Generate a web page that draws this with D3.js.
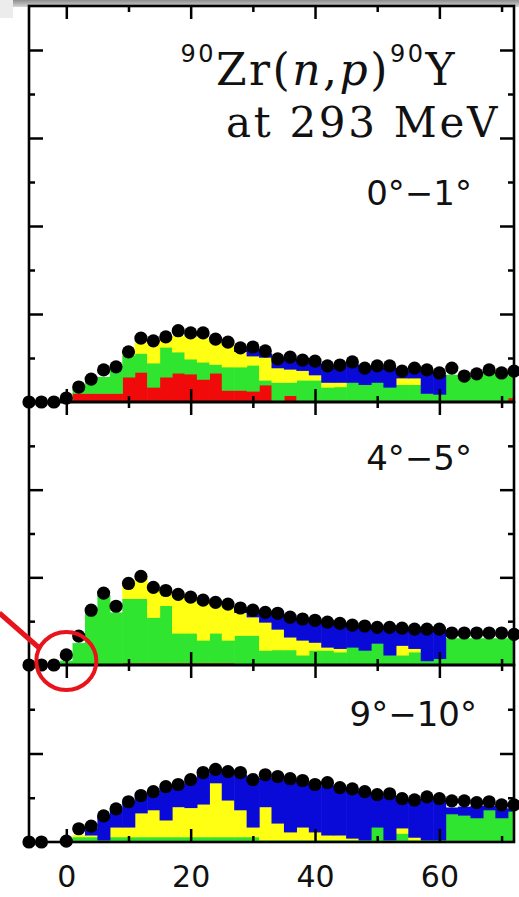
<!DOCTYPE html>
<html>
<head>
<meta charset="utf-8">
<script src="https://cdn.jsdelivr.net/npm/d3@7"></script>
<style>
body { margin: 0; background: #fff; }
svg { display: block; }
</style>
</head>
<body>
<script>
// bin centres (MeV), 2 MeV wide
var energy = [-6,-4,-2,0,2,4,6,8,10,12,14,16,18,20,22,24,26,28,30,32,34,36,38,40,42,44,46,48,50,52,54,56,58,60,62,64,66,68,70,72];

var xMajorTicks = [0, 20, 40, 60],
    xMinorTicks = [10, 30, 50, 70],
    xTickLabels = ["0", "20", "40", "60"],
    yMajorTicks = [2, 4, 6, 8],
    yMinorTicks = [1, 3, 5, 7];

var angleLabels = ["0°−1°", "4°−5°", "9°−10°"];

// 0-1 deg
var dots01 = [0,0,0,0.09,0.34,0.52,0.73,0.80,1.14,1.45,1.39,1.48,1.62,1.57,1.57,1.43,1.36,1.23,1.25,1.16,0.98,1.02,0.95,0.93,0.82,0.84,0.91,0.77,0.82,0.82,0.70,0.77,0.73,0.66,0.77,0.59,0.64,0.73,0.66,0.70];
var red01 = [0,0,0,0.05,0.2,0.2,0.2,0.2,0.57,0.68,0.34,0.57,0.66,0.64,0.52,0.66,0.27,0.27,0.25,0.39,0.02,0.15,0,0,0,0,0,0,0,0,0,0,0,0,0,0,0,0,0,0.1];
var green01 = [0,0,0,0.05,0.1,0.25,0.37,0.55,0.5,0.43,0.55,0.68,0.48,0.34,0.39,0.2,0.53,0.53,0.59,0.11,0.43,0.3,0.5,0.5,0.34,0.35,0.45,0.4,0.45,0.34,0.4,0.4,0.2,0.18,0.62,0.6,0.6,0.65,0.62,0.55];
var yellow01 = [0,0,0,0,0,0,0,0,0.03,0.24,0.46,0.15,0.36,0.52,0.54,0.52,0.5,0.35,0.21,0.52,0.33,0.3,0.22,0.12,0.11,0.1,0,0,0,0,0.15,0.15,0,0,0,0,0,0,0,0];
var blue01 = [0,0,0,0,0,0,0,0,0,0,0,0,0,0,0,0,0,0.05,0.15,0.08,0.17,0.23,0.18,0.25,0.33,0.35,0.4,0.32,0.33,0.44,0.13,0.17,0.48,0.44,0,0,0,0,0,0];

// 4-5 deg
var dots45 = [0,0,0,0.23,0.66,1.25,1.64,1.34,1.86,2.02,1.77,1.7,1.61,1.55,1.48,1.43,1.39,1.3,1.25,1.2,1.18,1.09,1.05,1.02,0.98,0.95,0.91,0.89,0.86,0.86,0.84,0.82,0.82,0.82,0.73,0.73,0.73,0.73,0.73,0.7];
var red45 = [0,0,0,0,0,0,0,0,0.05,0.05,0.05,0.05,0.05,0.05,0.05,0.05,0.05,0,0,0,0,0,0,0,0,0,0,0,0,0,0,0,0,0,0,0,0,0,0,0];
var green45 = [0,0,0,0.1,0.5,1.18,1.59,1.2,1.47,1.47,1.04,1.31,0.68,0.68,0.52,0.68,0.52,0.68,0.68,0.34,0.35,0.35,0.23,0.34,0.34,0.3,0.41,0.34,0.5,0.23,0.23,0.3,0.1,0.15,0.61,0.61,0.61,0.61,0.61,0.66];
var yellow45 = [0,0,0,0,0,0,0,0,0.34,0.46,0.63,0.32,0.85,0.79,0.88,0.67,0.79,0.52,0.42,0.64,0.47,0.29,0.34,0.18,0.07,0.08,0,0,0,0,0.22,0.08,0,0,0,0,0,0,0,0];
var blue45 = [0,0,0,0,0,0,0,0,0,0,0,0,0,0,0,0,0,0.08,0.12,0.2,0.33,0.43,0.46,0.48,0.55,0.55,0.48,0.53,0.35,0.61,0.37,0.42,0.7,0.65,0,0,0,0,0,0];

// 9-10 deg
var dots910 = [0,0,null,0.02,0.3,0.36,0.59,0.75,0.91,1.05,1.14,1.25,1.3,1.41,1.57,1.64,1.59,1.57,1.41,1.52,1.48,1.43,1.39,1.3,1.34,1.23,1.2,1.14,1.07,1.09,0.98,0.95,1.02,0.98,0.93,0.93,0.89,0.91,0.84,0.84];
var red910 = [0,0,0,0,0,0,0,0,0,0,0,0,0,0,0,0,0,0,0,0,0,0,0,0,0,0,0,0,0,0,0,0,0,0,0,0,0,0,0,0];
var green910 = [0,0,0,0.02,0.12,0.12,0.05,0.12,0.12,0.12,0.12,0.12,0.12,0.12,0.12,0.12,0.12,0.12,0.12,0.05,0.05,0.05,0.05,0.05,0.05,0.05,0.05,0.05,0.34,0.05,0.2,0.05,0.05,0.05,0.64,0.61,0.55,0.73,0.55,0.7];
var yellow910 = [0,0,0,0,0.04,0.04,0,0.22,0.22,0.54,0.61,0.38,0.68,0.66,0.74,1.22,0.83,0.61,0.22,0.75,0.38,0.18,0.29,0.18,0.11,0.11,0.04,0,0,0,0.12,0.06,0,0,0,0,0,0,0,0];
var blue910 = [0,0,0,0,0,0.14,0.52,0.38,0.54,0.36,0.37,0.72,0.48,0.6,0.66,0.26,0.6,0.79,1.04,0.65,0.99,1.15,1.0,1.02,1.12,1.02,1.06,1.05,0.69,1.0,0.63,0.81,0.92,0.9,0.14,0.19,0.27,0.09,0.21,0.06];

var keys = ["red", "green", "yellow", "blue"];
var colors = {red: "#f00a0a", green: "#2fe52f", yellow: "#ffff14", blue: "#0a0ad8"};

var width = 519, height = 897,
    left = 29, right = 514;

var panels = [
  {label: angleLabels[0], top: 6,   bottom: 402, ymax: 9, lx: 472, ly: 205,
   dots: dots01, red: red01, green: green01, yellow: yellow01, blue: blue01},
  {label: angleLabels[1], top: 402, bottom: 665, ymax: 6, lx: 472, ly: 470,
   dots: dots45, red: red45, green: green45, yellow: yellow45, blue: blue45},
  {label: angleLabels[2], top: 665, bottom: 842, ymax: 4, lx: 477, ly: 726,
   dots: dots910, red: red910, green: green910, yellow: yellow910, blue: blue910}
];

var svg = d3.select("body").append("svg")
    .attr("width", width)
    .attr("height", height);

// grey strip of the screenshot at the top
var defs = svg.append("defs");
var grad = defs.append("linearGradient").attr("id", "topfade")
    .attr("x1", 0).attr("y1", 0).attr("x2", 0).attr("y2", 1);
grad.append("stop").attr("offset", 0).attr("stop-color", "#8e8e8e");
grad.append("stop").attr("offset", 1).attr("stop-color", "#d4d4d4");
svg.append("rect").attr("x", 0).attr("y", 0).attr("width", width).attr("height", 7)
    .attr("fill", "url(#topfade)");
svg.append("rect").attr("x", 0).attr("y", 0).attr("width", 13).attr("height", 18)
    .attr("fill", "#ececec");

var x = d3.scaleLinear()
    .domain([-6, 72])
    .range([left, right]);

function tickAxis(g, axis, values, size) {
  g.call(axis.tickValues(values).tickSize(size).tickFormat(""))
   .call(function(s) { s.select(".domain").remove(); })
   .selectAll(".tick line")
   .attr("stroke", "#000")
   .attr("stroke-width", 2.5);
}

panels.forEach(function(p, i) {
  var y = d3.scaleLinear()
      .domain([0, p.ymax])
      .range([p.bottom, p.top]);
  p.y = y;

  var g = svg.append("g");

  defs.append("clipPath").attr("id", "clip" + i)
    .append("rect")
    .attr("x", left).attr("y", p.top)
    .attr("width", right - left).attr("height", p.bottom - p.top);

  var rows = energy.map(function(e, j) {
    return {e: e, red: p.red[j], green: p.green[j], yellow: p.yellow[j], blue: p.blue[j]};
  });
  var series = d3.stack().keys(keys)(rows);

  g.append("g")
      .attr("clip-path", "url(#clip" + i + ")")
    .selectAll("g")
    .data(series)
    .join("g")
      .attr("fill", function(d) { return colors[d.key]; })
    .selectAll("rect")
    .data(function(d) { return d.filter(function(v) { return v[1] - v[0] > 0; }); })
    .join("rect")
      .attr("x", function(d) { return x(d.data.e - 1); })
      .attr("width", x(2) - x(0) + 0.6)
      .attr("y", function(d) { return y(d[1]); })
      .attr("height", function(d) { return y(d[0]) - y(d[1]) + 0.6; });

  // frame
  g.append("rect")
      .attr("x", left).attr("y", p.top)
      .attr("width", right - left).attr("height", p.bottom - p.top)
      .attr("fill", "none")
      .attr("stroke", "#000")
      .attr("stroke-width", 2.6);

  var yMaj = yMajorTicks.filter(function(t) { return t < p.ymax; }),
      yMin = yMinorTicks.filter(function(t) { return t < p.ymax; });

  g.append("g").attr("transform", "translate(0," + p.bottom + ")")
      .call(tickAxis, d3.axisBottom(x), xMajorTicks, -13);
  g.append("g").attr("transform", "translate(0," + p.bottom + ")")
      .call(tickAxis, d3.axisBottom(x), xMinorTicks, -6);
  g.append("g").attr("transform", "translate(0," + p.top + ")")
      .call(tickAxis, d3.axisTop(x), xMajorTicks, -13);
  g.append("g").attr("transform", "translate(0," + p.top + ")")
      .call(tickAxis, d3.axisTop(x), xMinorTicks, -6);
  g.append("g").attr("transform", "translate(" + left + ",0)")
      .call(tickAxis, d3.axisLeft(y), yMaj, -14);
  g.append("g").attr("transform", "translate(" + left + ",0)")
      .call(tickAxis, d3.axisLeft(y), yMin, -6);
  g.append("g").attr("transform", "translate(" + right + ",0)")
      .call(tickAxis, d3.axisRight(y), yMaj, -14);
  g.append("g").attr("transform", "translate(" + right + ",0)")
      .call(tickAxis, d3.axisRight(y), yMin, -6);

  g.append("text")
      .attr("x", p.lx)
      .attr("y", p.ly)
      .attr("text-anchor", "end")
      .attr("font-family", "DejaVu Sans")
      .attr("font-size", 34)
      .attr("fill", "#111")
      .text(p.label);
});

// data points on top of everything
panels.forEach(function(p) {
  var pts = energy.map(function(e, j) { return {e: e, v: p.dots[j]}; })
      .filter(function(d) { return d.v != null; });
  svg.append("g").selectAll("circle")
    .data(pts)
    .join("circle")
      .attr("cx", function(d) { return x(d.e); })
      .attr("cy", function(d) { return p.y(d.v); })
      .attr("r", 6.6)
      .attr("fill", "#000");
});

// energy labels under the last panel
svg.append("g")
    .attr("transform", "translate(0," + panels[2].bottom + ")")
    .call(d3.axisBottom(x).tickValues(xMajorTicks).tickSize(0).tickPadding(24)
      .tickFormat(function(d, k) { return xTickLabels[k]; }))
    .attr("font-family", "DejaVu Sans")
    .attr("font-size", 30)
    .call(function(s) { s.select(".domain").remove(); })
    .selectAll("text").attr("fill", "#111");

// reaction title
var title = svg.append("text")
    .attr("x", 457)
    .attr("y", 85)
    .attr("text-anchor", "end")
    .attr("font-family", "DejaVu Serif")
    .attr("font-size", 44)
    .attr("letter-spacing", 2.5)
    .attr("fill", "#111");
title.append("tspan").attr("font-family", "DejaVu Sans").attr("font-size", 24)
    .attr("dy", -23).text("90");
title.append("tspan").attr("dy", 23).text("Zr(");
title.append("tspan").attr("font-style", "italic").text("n");
title.append("tspan").text(",");
title.append("tspan").attr("font-style", "italic").text("p");
title.append("tspan").text(")");
title.append("tspan").attr("font-family", "DejaVu Sans").attr("font-size", 24)
    .attr("dy", -23).text("90");
title.append("tspan").attr("dy", 23).text("Y");

svg.append("text")
    .attr("x", 500)
    .attr("y", 137)
    .attr("text-anchor", "end")
    .attr("font-family", "DejaVu Serif")
    .attr("font-size", 42)
    .attr("letter-spacing", 2.7)
    .attr("fill", "#111")
    .text("at 293 MeV");

// red marker around the threshold of the middle panel
var cx = x(0), cy = panels[1].y(0) - 4;
svg.append("line")
    .attr("x1", cx - 67).attr("y1", cy - 48)
    .attr("x2", cx - 27).attr("y2", cy - 13)
    .attr("stroke", "#e8141c")
    .attr("stroke-width", 5);
svg.append("ellipse")
    .attr("cx", cx).attr("cy", cy)
    .attr("rx", 30).attr("ry", 29)
    .attr("fill", "none")
    .attr("stroke", "#e8141c")
    .attr("stroke-width", 4);
</script>
</body>
</html>
